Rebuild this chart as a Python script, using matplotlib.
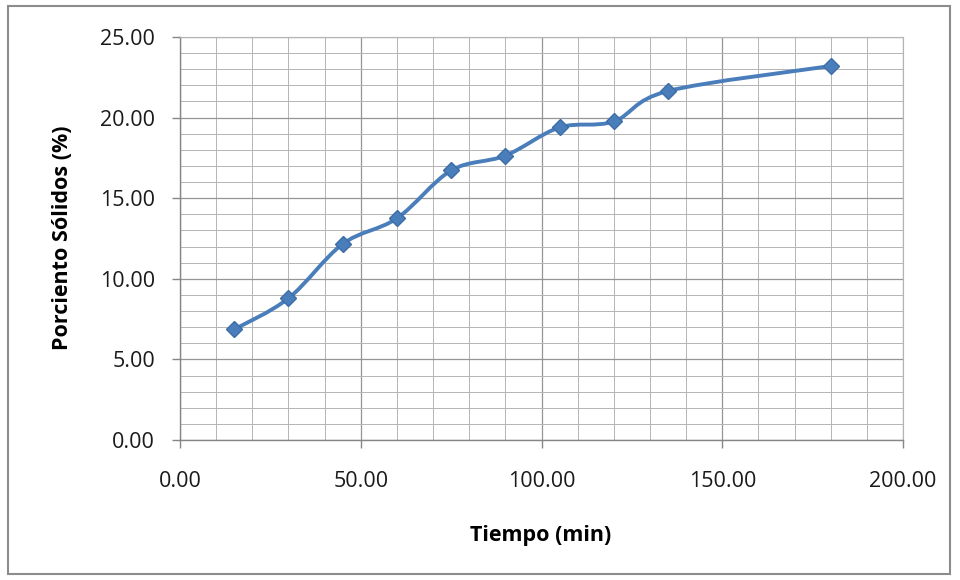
import matplotlib.pyplot as plt
from matplotlib.path import Path
from matplotlib.patches import PathPatch, Rectangle
from matplotlib.ticker import MultipleLocator, FormatStrFormatter

tiempo = [15, 30, 45, 60, 75, 90, 105, 120, 135, 180]
solidos = [6.86, 8.79, 12.16, 13.75, 16.72, 17.64, 19.39, 19.76, 21.65, 23.2]

line_color = "#4a7ebb"
grid_major = "#959595"
grid_minor = "#b4b4b4"

plt.rcParams["font.family"] = ["Open Sans", "DejaVu Sans"]

fig = plt.figure(figsize=(9.6, 5.8), dpi=100)
ax = fig.add_axes([180 / 960, 1 - 440 / 580, 723 / 960, 403 / 580])

# outer chart frame
fig.patches.append(Rectangle((8 / 960, 6 / 580), 942 / 960, 568 / 580,
                             transform=fig.transFigure, fill=False,
                             edgecolor="#8c8c8c", linewidth=1.5))

# smoothed line like Excel (cubic bezier through the points)
verts = [(tiempo[0], solidos[0])]
codes = [Path.MOVETO]
n = len(tiempo)
t = 1 / 6
for i in range(n - 1):
    x0, y0 = tiempo[max(i - 1, 0)], solidos[max(i - 1, 0)]
    x1, y1 = tiempo[i], solidos[i]
    x2, y2 = tiempo[i + 1], solidos[i + 1]
    x3, y3 = tiempo[min(i + 2, n - 1)], solidos[min(i + 2, n - 1)]
    c1 = (x1 + (x2 - x0) * t, y1 + (y2 - y0) * t)
    c2 = (x2 - (x3 - x1) * t, y2 - (y3 - y1) * t)
    verts += [c1, c2, (x2, y2)]
    codes += [Path.CURVE4] * 3
ax.add_patch(PathPatch(Path(verts, codes), fill=False, edgecolor=line_color,
                       linewidth=2.8, zorder=3, capstyle="round", joinstyle="round"))
ax.plot(tiempo, solidos, linestyle="", marker="D", markersize=8.5,
        color=line_color, markeredgecolor="#3d6da8", zorder=4)

ax.set_xlim(0, 200)
ax.set_ylim(0, 25)
ax.xaxis.set_major_locator(MultipleLocator(50))
ax.xaxis.set_minor_locator(MultipleLocator(10))
ax.yaxis.set_major_locator(MultipleLocator(5))
ax.yaxis.set_minor_locator(MultipleLocator(1))
ax.xaxis.set_major_formatter(FormatStrFormatter("%.2f"))
ax.yaxis.set_major_formatter(FormatStrFormatter("%.2f"))

ax.grid(which="major", color=grid_major, linewidth=0.9)
ax.grid(which="minor", color=grid_minor, linewidth=0.7)
ax.set_axisbelow(True)

for side in ["top", "right"]:
    ax.spines[side].set_color(grid_minor)
    ax.spines[side].set_linewidth(0.8)
for side in ["left", "bottom"]:
    ax.spines[side].set_color("#868686")
    ax.spines[side].set_linewidth(1.0)

ax.tick_params(which="major", direction="out", length=6, width=1,
               color="#868686", labelsize=15.5, labelcolor="#1a1a1a")
ax.tick_params(axis="y", pad=12)
ax.tick_params(axis="x", pad=16)
ax.tick_params(which="minor", length=0)

fig.text(541 / 960, 1 - 536 / 580, "Tiempo (min)", fontsize=15.5,
         fontweight="bold", ha="center", va="center")
fig.text(62 / 960, 1 - 238 / 580, "Porciento Sólidos (%)", fontsize=15.5,
         fontweight="bold", ha="center", va="center", rotation=90)

fig.savefig("out.png", dpi=100)
